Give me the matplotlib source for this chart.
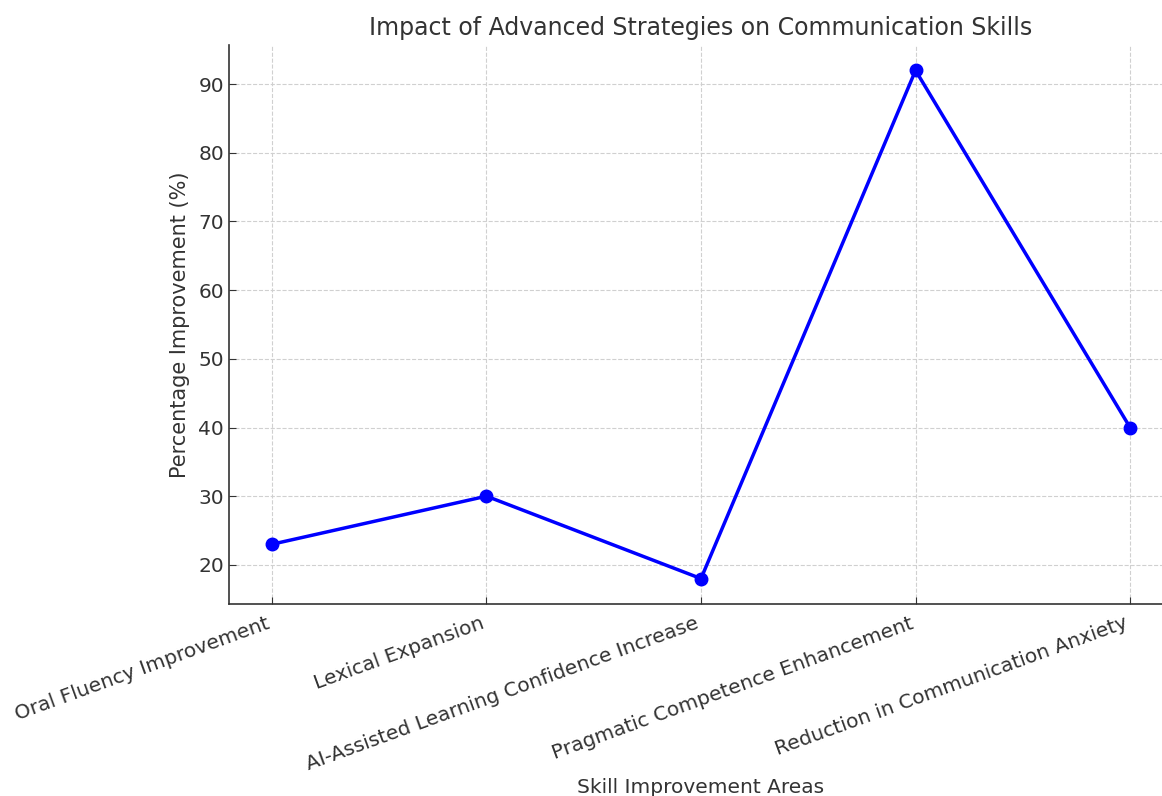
import matplotlib
matplotlib.use("Agg")
from matplotlib import pyplot as plt

# skill areas and measured improvement (%)
areas = ["Oral Fluency Improvement",
         "Lexical Expansion",
         "AI-Assisted Learning Confidence Increase",
         "Pragmatic Competence Enhancement",
         "Reduction in Communication Anxiety"]
improvement = [23, 30, 18, 92, 40]

fig = plt.figure(figsize=(11.62, 7.96), dpi=100)
ax = fig.add_axes([229 / 1162, 1 - 604 / 796, (1173 - 229) / 1162, (604 - 45) / 796])

ax.plot(areas, improvement, color="blue", marker="o", linewidth=2.5, markersize=9)

ax.set_title("Impact of Advanced Strategies on Communication Skills",
             fontsize=17, color="#333333", pad=7)
ax.set_xlabel("Skill Improvement Areas", fontsize=14.5, color="#333333", labelpad=3)
ax.set_ylabel("Percentage Improvement (%)", fontsize=15, color="#333333", labelpad=6)

ax.grid(True, linestyle="--", color="#d0d0d0", linewidth=0.8)
ax.set_axisbelow(True)
ax.spines["top"].set_visible(False)
ax.spines["right"].set_visible(False)
for side in ("left", "bottom"):
    ax.spines[side].set_color("#333333")
    ax.spines[side].set_linewidth(1.2)
ax.tick_params(direction="in", length=5, colors="#333333", labelsize=14.5)
ax.tick_params(axis="x", pad=7)
plt.setp(ax.get_xticklabels(), rotation=20, ha="right", rotation_mode="default")

fig.savefig("out.png", dpi=100)
